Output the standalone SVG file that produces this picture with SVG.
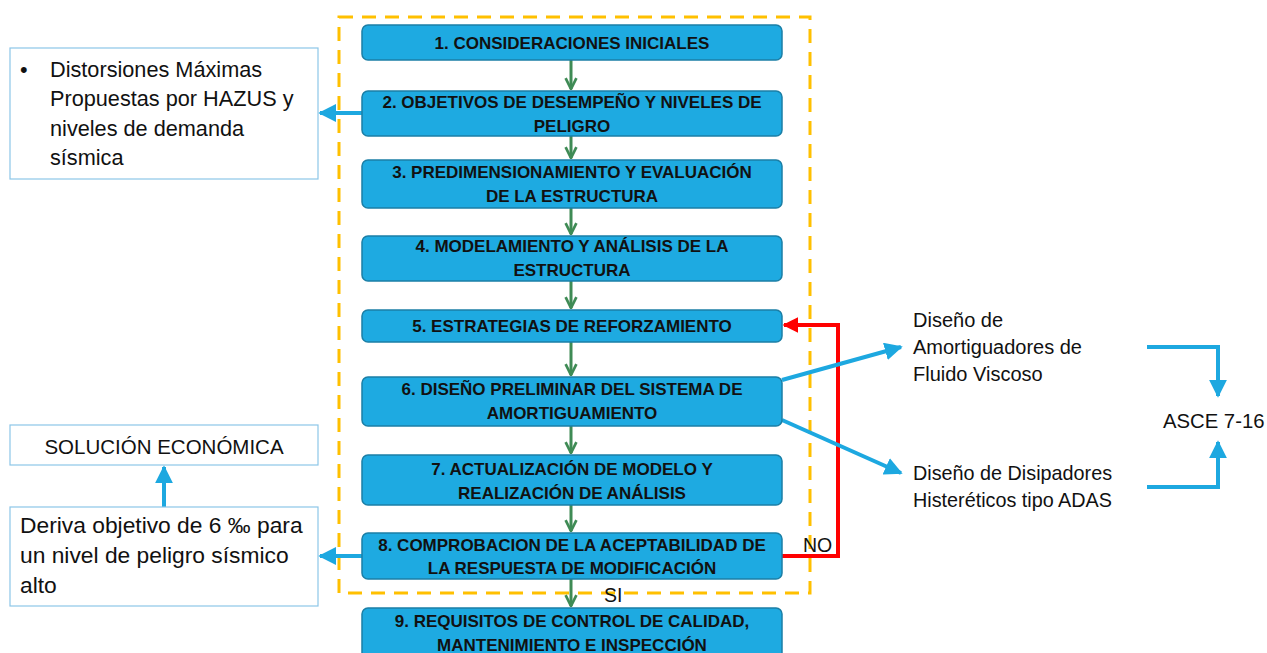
<svg xmlns="http://www.w3.org/2000/svg" width="1267" height="653" viewBox="0 0 1267 653">
<style>
.box{fill:#1EAAE1;stroke:#1B7FA6;stroke-width:1.5}
.bt{font-family:"Liberation Sans",Arial,sans-serif;font-weight:bold;font-size:17px;fill:#111;text-anchor:middle}
.nb{fill:#fff;stroke:#8CC6E8;stroke-width:1.2}
.nt{font-family:"Liberation Sans",Arial,sans-serif;fill:#111}
.g{stroke:#3F8B55;stroke-width:3;fill:none}
.b{stroke:#1DA8E0;stroke-width:4;fill:none}
.r{stroke:#FF0000;stroke-width:4;fill:none}
</style>
<defs>
<marker id="ga" viewBox="0 0 10 10" refX="9" refY="5" markerWidth="4.5" markerHeight="4.5" orient="auto" markerUnits="strokeWidth"><path d="M1,1 L9,5 L1,9" fill="none" stroke="#3F8B55" stroke-width="2"/></marker>
<marker id="ba" viewBox="0 0 10 10" refX="9" refY="5" markerWidth="4.5" markerHeight="4.5" orient="auto" markerUnits="strokeWidth"><path d="M0,0 L10,5 L0,10 Z" fill="#1DA8E0"/></marker>
<marker id="ra" viewBox="0 0 10 10" refX="9" refY="5" markerWidth="4" markerHeight="4" orient="auto" markerUnits="strokeWidth"><path d="M0,0 L10,5 L0,10 Z" fill="#FF0000"/></marker>
</defs>
<rect width="1267" height="653" fill="#fff"/>
<rect id="frame" x="339" y="17" width="471" height="576" fill="none" stroke="#FFC000" stroke-width="3" stroke-dasharray="14,9"/>
<g id="connectors">
<line class="g" x1="571" y1="60" x2="571" y2="89" marker-end="url(#ga)"/>
<line class="g" x1="571" y1="136" x2="571" y2="158" marker-end="url(#ga)"/>
<line class="g" x1="571" y1="208" x2="571" y2="234" marker-end="url(#ga)"/>
<line class="g" x1="571" y1="281" x2="571" y2="308" marker-end="url(#ga)"/>
<line class="g" x1="571" y1="342" x2="571" y2="375" marker-end="url(#ga)"/>
<line class="g" x1="571" y1="426" x2="571" y2="453" marker-end="url(#ga)"/>
<line class="g" x1="571" y1="505" x2="571" y2="531" marker-end="url(#ga)"/>
<line class="g" x1="571" y1="579" x2="571" y2="606" marker-end="url(#ga)"/>
<line class="b" x1="362" y1="113" x2="320" y2="113" marker-end="url(#ba)"/>
<line class="b" x1="362" y1="556" x2="320" y2="556" marker-end="url(#ba)"/>
<line class="b" x1="164" y1="507" x2="164" y2="467" marker-end="url(#ba)"/>
<polyline class="r" points="782,556 838,556 838,325 784,325" marker-end="url(#ra)"/>
<line class="b" x1="782" y1="380" x2="901" y2="347" marker-end="url(#ba)"/>
<line class="b" x1="782" y1="420" x2="901" y2="473" marker-end="url(#ba)"/>
<polyline class="b" points="1147,347 1218,347 1218,396" marker-end="url(#ba)"/>
<polyline class="b" points="1147,487 1218,487 1218,442" marker-end="url(#ba)"/>
<text class="nt" x="803" y="552" style="font-size:19.5px">NO</text>
<text class="nt" x="604" y="602" style="font-size:19.5px">SI</text>
</g>
<g id="n1"><rect class="box" x="362" y="25" width="420" height="35" rx="6"/><text class="bt" x="572" y="49">1. CONSIDERACIONES INICIALES</text></g>
<g id="n2"><rect class="box" x="362" y="91" width="420" height="45" rx="6"/><text class="bt" x="572" y="108">2. OBJETIVOS DE DESEMPEÑO Y NIVELES DE</text><text class="bt" x="572" y="132">PELIGRO</text></g>
<g id="n3"><rect class="box" x="362" y="160" width="420" height="48" rx="6"/><text class="bt" x="572" y="178">3. PREDIMENSIONAMIENTO Y EVALUACIÓN</text><text class="bt" x="572" y="202">DE LA ESTRUCTURA</text></g>
<g id="n4"><rect class="box" x="362" y="236" width="420" height="45" rx="6"/><text class="bt" x="572" y="252">4. MODELAMIENTO Y ANÁLISIS DE LA</text><text class="bt" x="572" y="276">ESTRUCTURA</text></g>
<g id="n5"><rect class="box" x="362" y="310" width="420" height="32" rx="6"/><text class="bt" x="572" y="332">5. ESTRATEGIAS DE REFORZAMIENTO</text></g>
<g id="n6"><rect class="box" x="362" y="377" width="420" height="49" rx="6"/><text class="bt" x="572" y="395">6. DISEÑO PRELIMINAR DEL SISTEMA DE</text><text class="bt" x="572" y="419">AMORTIGUAMIENTO</text></g>
<g id="n7"><rect class="box" x="362" y="455" width="420" height="50" rx="6"/><text class="bt" x="572" y="475">7. ACTUALIZACIÓN DE MODELO Y</text><text class="bt" x="572" y="499">REALIZACIÓN DE ANÁLISIS</text></g>
<g id="n8"><rect class="box" x="362" y="533" width="420" height="46" rx="6"/><text class="bt" x="572" y="551">8. COMPROBACION DE LA ACEPTABILIDAD DE</text><text class="bt" x="572" y="574">LA RESPUESTA DE MODIFICACIÓN</text></g>
<g id="n9"><rect class="box" x="362" y="608" width="420" height="55" rx="6"/><text class="bt" x="572" y="627">9. REQUISITOS DE CONTROL DE CALIDAD,</text><text class="bt" x="572" y="651">MANTENIMIENTO E INSPECCIÓN</text></g>
<g id="hazus" style="font-size:21.7px"><rect class="nb" x="10" y="48" width="308" height="131"/><text class="nt" x="20" y="77">•</text><text class="nt" x="50" y="77">Distorsiones Máximas</text><text class="nt" x="50" y="106">Propuestas por HAZUS y</text><text class="nt" x="50" y="136">niveles de demanda</text><text class="nt" x="50" y="165">sísmica</text></g>
<g id="solucion" style="font-size:20.5px"><rect class="nb" x="10" y="425" width="308" height="40"/><text class="nt" x="164" y="454" text-anchor="middle">SOLUCIÓN ECONÓMICA</text></g>
<g id="deriva" style="font-size:22.8px"><rect class="nb" x="10" y="507" width="308" height="99"/><text class="nt" x="20" y="533">Deriva objetivo de 6 ‰ para</text><text class="nt" x="20" y="563">un nivel de peligro sísmico</text><text class="nt" x="20" y="593">alto</text></g>
<g id="fluido" style="font-size:20px"><text class="nt" x="913" y="327">Diseño de</text><text class="nt" x="913" y="354">Amortiguadores de</text><text class="nt" x="913" y="381">Fluido Viscoso</text></g>
<g id="adas" style="font-size:19.8px"><text class="nt" x="913" y="480">Diseño de Disipadores</text><text class="nt" x="913" y="507">Histeréticos tipo ADAS</text></g>
<g id="asce" style="font-size:20.3px"><text class="nt" x="1163" y="428">ASCE 7-16</text></g>
</svg>
